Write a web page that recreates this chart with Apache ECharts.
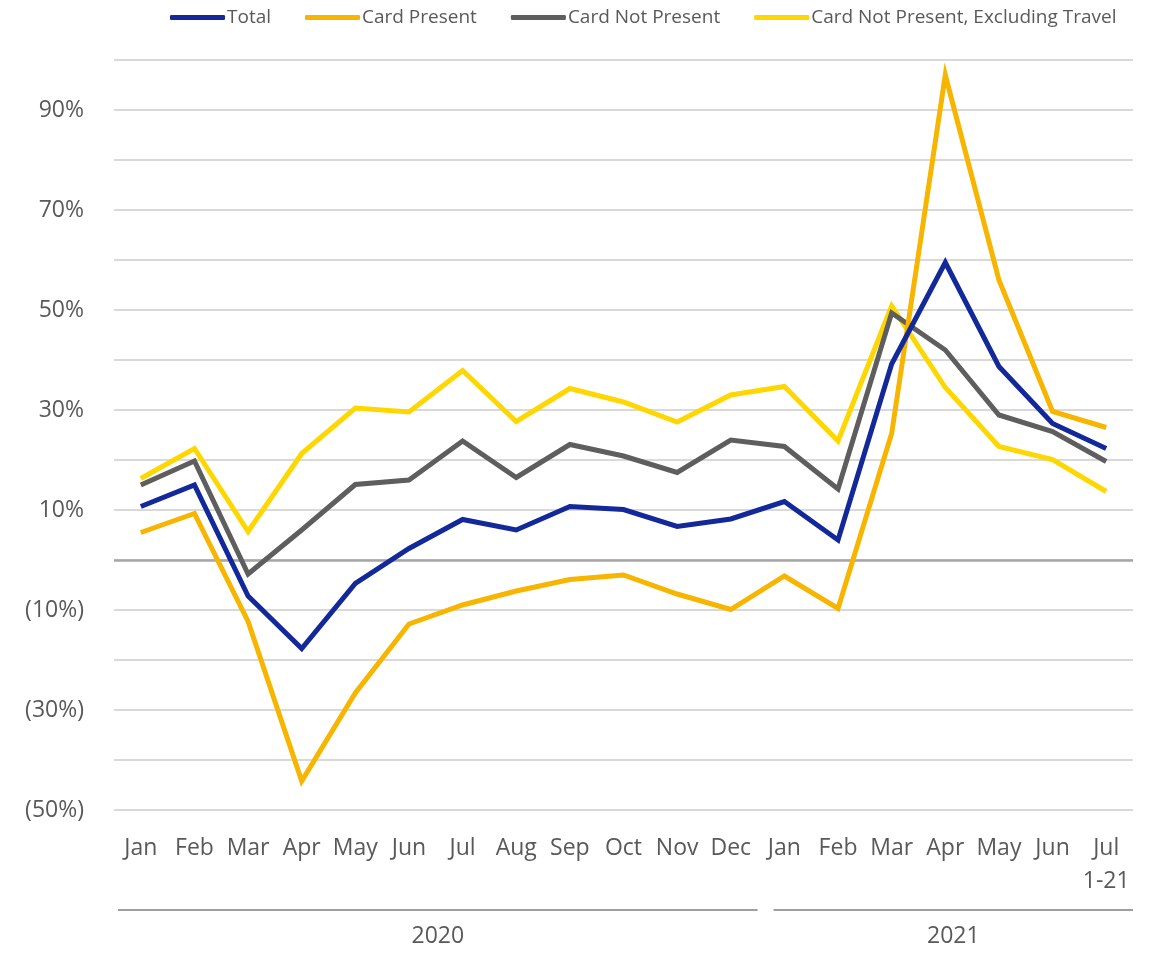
<!DOCTYPE html>
<html>
<head>
<meta charset="utf-8">
<script src="https://cdn.jsdelivr.net/npm/echarts@6/dist/echarts.min.js"></script>
<style>
  html, body { margin: 0; padding: 0; background: #fff; }
  #chart { width: 1152px; height: 953px; }
</style>
</head>
<body>
<div id="chart"></div>
<script>
const months = ["Jan", "Feb", "Mar", "Apr", "May", "Jun", "Jul", "Aug", "Sep", "Oct", "Nov", "Dec",
  "Jan", "Feb", "Mar", "Apr", "May", "Jun", "Jul\n1-21"];
const years = [
  { label: "2020", from: 0, to: 11 },
  { label: "2021", from: 12, to: 18 },
];

const total = [10.7, 15, -7.2, -17.7, -4.7, 2.3, 8.1, 6, 10.7, 10.1, 6.7, 8.2, 11.7, 4, 39.2, 59.5, 38.7, 27.3, 22.3];
const cardPresent = [5.5, 9.3, -12.3, -44.2, -26.6, -12.8, -9, -6.2, -3.9, -3, -6.8, -9.9, -3.2, -9.7, 25.3, 97, 56, 29.7, 26.5];
const cardNotPresent = [15, 19.8, -2.8, 6, 15.1, 16, 23.8, 16.5, 23.1, 20.8, 17.5, 24, 22.7, 14.2, 49.4, 42, 29, 25.7, 19.7];
const cnpExTravel = [16.3, 22.3, 5.7, 21.3, 30.4, 29.6, 37.9, 27.7, 34.3, 31.6, 27.6, 33, 34.7, 23.8, 50.8, 34.5, 22.7, 20.1, 13.7];

const font = "'Open Sans', 'Noto Sans', sans-serif";
const textColor = "#595959";

const chart = echarts.init(document.getElementById("chart"));

const line = (name, data, color) => ({
  name,
  type: "line",
  data,
  showSymbol: false,
  symbol: "none",
  lineStyle: { width: 5, color, join: "miter" },
  itemStyle: { color },
});

const series = [
  line("Total", total, "#13299A"),
  line("Card Present", cardPresent, "#F7B500"),
  line("Card Not Present", cardNotPresent, "#5E5E5E"),
  line("Card Not Present, Excluding Travel", cnpExTravel, "#FFD700"),
];
// zero line
series[0].markLine = {
  silent: true,
  symbol: "none",
  label: { show: false },
  lineStyle: { color: "#A6A6A6", width: 2.5, type: "solid" },
  data: [{ yAxis: 0 }],
  z: 1,
};
series.forEach((s, i) => (s.z = 10 - i));

chart.setOption({
  animation: false,
  backgroundColor: "#fff",
  textStyle: { fontFamily: font },
  legend: {
    top: 3,
    left: 165,
    itemWidth: 55,
    itemHeight: 5,
    itemGap: 34,
    icon: "roundRect",
    textStyle: { fontSize: 19, color: textColor, fontFamily: font, padding: [0, 0, 0, -3] },
    data: series.map((s) => s.name),
  },
  grid: { left: 114, right: 19, top: 60, bottom: 143, containLabel: false },
  xAxis: {
    type: "category",
    data: months,
    boundaryGap: true,
    axisLine: { show: false },
    axisTick: { show: false },
    axisLabel: {
      interval: 0,
      fontSize: 23,
      color: textColor,
      fontFamily: font,
      margin: 22,
      lineHeight: 33,
      verticalAlign: "top",
    },
  },
  yAxis: {
    type: "value",
    min: -50,
    max: 100,
    interval: 10,
    axisLine: { show: false },
    axisTick: { show: false },
    splitLine: { lineStyle: { color: "#D9D9D9", width: 2 } },
    axisLabel: {
      fontSize: 23,
      color: textColor,
      fontFamily: font,
      margin: 30,
      formatter: (v) => {
        if (Math.abs(v / 10) % 2 !== 1) return "";
        return v < 0 ? "(" + Math.abs(v) + "%)" : v + "%";
      },
    },
  },
  series,
});

// year brackets under the month labels, placed from the category axis
const half = (chart.convertToPixel({ xAxisIndex: 0 }, 1) - chart.convertToPixel({ xAxisIndex: 0 }, 0)) / 2;
const graphics = [];
years.forEach((y, i) => {
  const x0 = chart.convertToPixel({ xAxisIndex: 0 }, y.from) - half + (i === 0 ? 4 : 16);
  const x1 = chart.convertToPixel({ xAxisIndex: 0 }, y.to) + half;
  graphics.push({
    type: "line",
    shape: { x1: x0, y1: 910, x2: x1, y2: 910 },
    style: { stroke: "#7F7F7F", lineWidth: 1.5 },
  });
  graphics.push({
    type: "text",
    x: (x0 + x1) / 2,
    y: 936,
    style: {
      text: y.label,
      fill: textColor,
      font: "23px " + font,
      align: "center",
      verticalAlign: "middle",
    },
  });
});
chart.setOption({ graphic: graphics });
</script>
</body>
</html>
